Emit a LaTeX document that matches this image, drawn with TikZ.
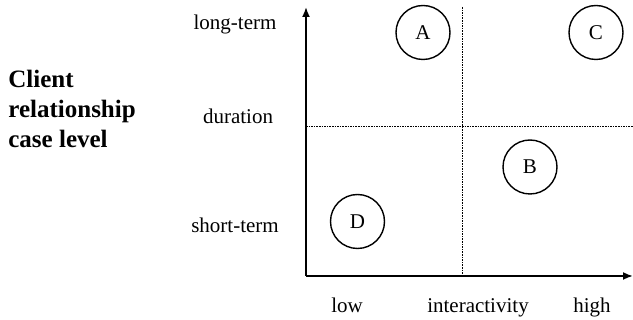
\documentclass[tikz,border=0pt]{standalone}
\usepackage{fontspec}
\setmainfont{Liberation Serif}
\usetikzlibrary{arrows.meta, positioning}

\begin{document}
\begin{tikzpicture}[x=0.5pt, y=-0.5pt, >={Latex[length=5pt, width=4pt]},
  axis/.style={line width=0.9pt},
  split/.style={line width=0.5pt, dash pattern=on 0.8pt off 0.5pt},
  case/.style={draw, circle, line width=0.7pt, minimum size=27pt, inner sep=0pt,
               font=\fontsize{10.5}{12}\selectfont},
  lbl/.style={font=\fontsize{10.5}{12}\selectfont, inner sep=0pt, anchor=base}]
  \useasboundingbox (0,0) rectangle (633,320);
  % axes
  \coordinate (origin) at (306,276);
  \coordinate (ytop) at (306,7);
  \coordinate (xend) at (633,276);
  \draw[axis, ->] (origin) -- (ytop);
  \draw[axis, ->] (origin) -- (xend);
  % quadrants
  \coordinate (vtop) at (462,7);
  \coordinate (vbot) at (462,276);
  \coordinate (hleft) at (306,127);
  \coordinate (hright) at (633,127);
  \draw[split] (vtop) -- (vbot);
  \draw[split] (hleft) -- (hright);
  % cases
  \node[case] (A) at (423,32.5) {A};
  \node[case] (C) at (596,32.5) {C};
  \node[case] (B) at (530,167) {B};
  \node[case] (D) at (357.5,221.5) {D};
  % duration labels
  \node[lbl] (long) at (235,30) {long-term};
  \node[lbl] (dur) at (238,124) {duration};
  \node[lbl] (short) at (235,233) {short-term};
  % interactivity labels
  \node[lbl] (low) at (347,313) {low};
  \node[lbl] (inter) at (478,313) {interactivity};
  \node[lbl] (high) at (592,313) {high};
  % title
  \node[anchor=base west, inner sep=0pt, align=left,
        font=\fontsize{12.5}{15}\selectfont\bfseries] (title) at (8,148)
    {Client\\relationship\\case level};
\end{tikzpicture}
\end{document}
